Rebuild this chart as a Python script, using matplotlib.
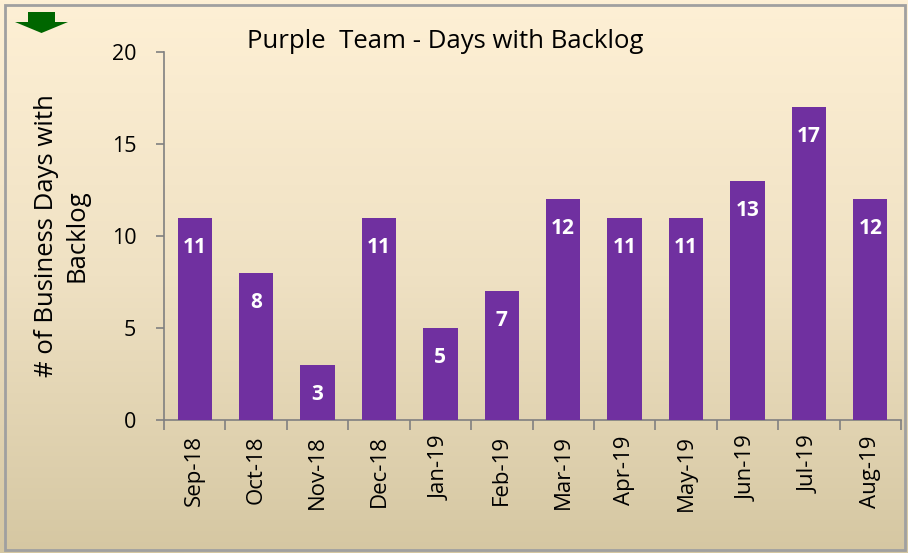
import numpy as np
import matplotlib.pyplot as plt
from matplotlib.patches import Polygon, Rectangle
from matplotlib.colors import LinearSegmentedColormap

# --- DATA ---
months = ["Sep-18", "Oct-18", "Nov-18", "Dec-18", "Jan-19", "Feb-19",
          "Mar-19", "Apr-19", "May-19", "Jun-19", "Jul-19", "Aug-19"]
days_with_backlog = [11, 8, 3, 11, 5, 7, 12, 11, 11, 13, 17, 12]
y_ticks = [0, 5, 10, 15, 20]

plt.rcParams['font.family'] = ['Open Sans', 'DejaVu Sans']

fig = plt.figure(figsize=(9.08, 5.53), dpi=100)

# background gradient (cream at top -> tan at bottom)
bg = fig.add_axes([0, 0, 1, 1], zorder=-10)
cmap = LinearSegmentedColormap.from_list("bg", ["#D5C7A2", "#EFE1C3", "#FEF0D5"])
grad = np.linspace(0, 1, 256).reshape(-1, 1)
bg.imshow(grad, aspect='auto', cmap=cmap, origin='lower', extent=[0, 1, 0, 1])
bg.set_xlim(0, 1)
bg.set_ylim(0, 1)
bg.axis('off')

# outer grey border
bg.add_patch(Rectangle((5 / 908, 3 / 553), 900 / 908, 545 / 553, fill=False,
                       edgecolor="#A0A0A0", linewidth=2))

# green arrow top-left
W, H = 908, 553
arrow_px = [(28, 12), (55, 12), (55, 22), (68, 22), (41.5, 33), (15, 22), (28, 22)]
bg.add_patch(Polygon([(x / W, 1 - y / H) for x, y in arrow_px],
                     closed=True, facecolor="#006600", edgecolor="none"))

ax = fig.add_axes([164 / 908, 133 / 553, 737 / 908, 368 / 553])
ax.patch.set_alpha(0)

x = np.arange(len(months))
bars = ax.bar(x, days_with_backlog, width=0.56, color="#7030A0", zorder=3)

for xi, v in zip(x, days_with_backlog):
    ax.text(xi, v - 1.6, str(v), ha='center', va='center', color='white',
            fontsize=15, fontweight='bold')

ax.set_xlim(-0.5, len(months) - 0.5)
ax.set_ylim(0, 20)
ax.set_yticks(y_ticks)
ax.set_yticklabels([str(t) for t in y_ticks], fontsize=15.5)
ax.tick_params(axis='y', length=6, color="#808080", width=1.2, pad=14)

# category labels at centres, tick marks at boundaries
ax.set_xticks(x)
ax.set_xticklabels(months, rotation=90, fontsize=16)
ax.tick_params(axis='x', length=0, pad=11)
ax.set_xticks(np.arange(-0.5, len(months), 1), minor=True)
ax.tick_params(axis='x', which='minor', length=7, color="#808080", width=1.2)

for side in ['top', 'right']:
    ax.spines[side].set_visible(False)
for side in ['left', 'bottom']:
    ax.spines[side].set_color("#808080")
    ax.spines[side].set_linewidth(1.2)

ax.set_ylabel("# of Business Days with\nBacklog", fontsize=18.5, labelpad=16,
              linespacing=1.3)

fig.text(445 / 908, 1 - 42 / 553, "Purple  Team - Days with Backlog",
         ha='center', va='center', fontsize=18.5)

fig.savefig("out.png", dpi=100)
